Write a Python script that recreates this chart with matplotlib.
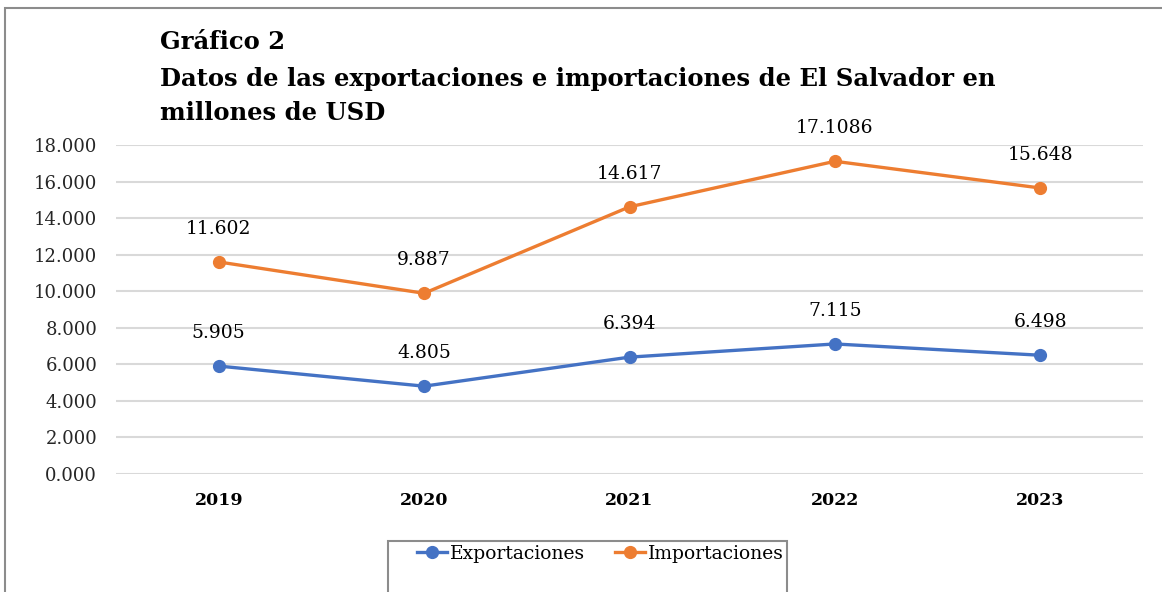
import matplotlib.pyplot as plt
from matplotlib.patches import Rectangle
from matplotlib.ticker import FuncFormatter

# data
years = ["2019", "2020", "2021", "2022", "2023"]
exportaciones = [5.905, 4.805, 6.394, 7.115, 6.498]
importaciones = [11.602, 9.887, 14.617, 17.1086, 15.648]
export_labels = ["5.905", "4.805", "6.394", "7.115", "6.498"]
import_labels = ["11.602", "9.887", "14.617", "17.1086", "15.648"]
title_lines = ["Gráfico 2",
               "Datos de las exportaciones e importaciones de El Salvador en",
               "millones de USD"]

blue = "#4472C4"
orange = "#ED7D31"

plt.rcParams["font.family"] = ["DejaVu Serif"]

W, H = 1162, 592
fig = plt.figure(figsize=(W / 100, H / 100), dpi=100)

# outer frame of the chart object
fig.patches.append(Rectangle((5 / W, -0.1), 1.2, 1 - 8 / H + 0.1,
                             transform=fig.transFigure, fill=False,
                             edgecolor="#8c8c8c", linewidth=1.5))

ax = fig.add_axes([116 / W, 1 - 474 / H, (1143 - 116) / W, (474 - 145) / H])
x = list(range(len(years)))

ax.plot(x, exportaciones, color=blue, lw=2.4, marker="o", ms=8.5,
        label="Exportaciones")
ax.plot(x, importaciones, color=orange, lw=2.4, marker="o", ms=8.5,
        label="Importaciones")

for xi, v, t in zip(x, exportaciones, export_labels):
    ax.annotate(t, (xi, v), xytext=(0, 24), textcoords="offset points",
                ha="center", va="center", fontsize=13.5, color="black",
                fontweight="medium")
for xi, v, t in zip(x, importaciones, import_labels):
    ax.annotate(t, (xi, v), xytext=(0, 24), textcoords="offset points",
                ha="center", va="center", fontsize=13.5, color="black",
                fontweight="medium")

ax.set_xlim(-0.5, len(years) - 0.5)
ax.set_ylim(0, 18)
ax.set_yticks(range(0, 19, 2))
ax.yaxis.set_major_formatter(FuncFormatter(lambda v, p: f"{v:.3f}"))
ax.set_xticks(x)
ax.set_xticklabels(years, fontweight="bold")
ax.tick_params(axis="y", length=0, pad=13.5, labelsize=13, labelcolor="#262626")
ax.tick_params(axis="x", length=0, pad=13, labelsize=12.5)
ax.grid(axis="y", color="#d9d9d9", lw=1.5)
ax.set_axisbelow(True)
for s in ax.spines.values():
    s.set_visible(False)

for line, yc in zip(title_lines, [42, 79, 113]):
    fig.text(160 / W, 1 - yc / H, line, ha="left", va="center",
             fontsize=17.5, fontweight="bold")

# legend box
fig.patches.append(Rectangle((388 / W, -0.1), (787 - 388) / W, 1 - 541 / H + 0.1,
                             transform=fig.transFigure, fill=False,
                             edgecolor="#8c8c8c", linewidth=1.5))
fig.legend(loc="center left", bbox_to_anchor=(408 / W, 1 - 554 / H),
           ncol=2, frameon=False, fontsize=13.5, handlelength=1.6,
           handletextpad=0.15, columnspacing=1.6, borderpad=0)

fig.savefig("out.png", dpi=100)
